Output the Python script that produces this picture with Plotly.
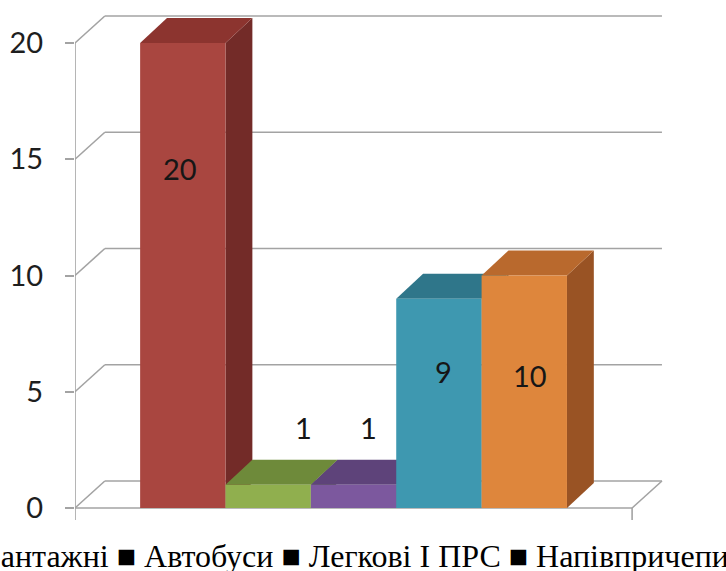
import plotly.graph_objects as go

# ---- data ----
categories = ["Вантажні", "Автобуси", "Легкові", "ПРС", "Напівпричепи"]
values = [20, 1, 1, 9, 10]
y_ticks = [0, 5, 10, 15, 20]
legend_separators = ["■", "■", "І", "■"]

# ---- styling ----
front_colors = ["#A94640", "#90AF4E", "#7C589E", "#3E98B0", "#DE863C"]
top_colors = ["#8C342F", "#6E8A3A", "#5E437A", "#2F768A", "#B9692D"]
side_colors = ["#732B28", "#5A7430", "#4C3765", "#256476", "#995324"]
grid_color = "#A3A3A3"
tick_font = dict(family="Lato", size=29, color="#1E1E1E")
label_font = dict(family="Lato", size=29, color="#161616")

# value-label placement (x shift from bar centre, height in axis units)
label_dx = [-0.03, 0.41, 0.17, 0.05, 0.07]
label_y = [14.6, 3.45, 3.45, 5.85, 5.7]

# ---- layout geometry ----
W, H = 726, 571
M_L, M_R, M_T, M_B = 72, 60, 10, 51
PX_PER_BAR = 85.8          # horizontal pixels per bar width
PX_PER_UNIT = 23.25        # vertical pixels per value unit
ZERO_FROM_BOTTOM = 12      # pixels between value 0 and the plot bottom
GAP = 0.763                # side gap between floor edge and first/last bar
FLOOR_DX, FLOOR_DY = 30 / PX_PER_BAR, 27 / PX_PER_UNIT
BAR_DX, BAR_DY = 27 / PX_PER_BAR, 25 / PX_PER_UNIT

n = len(values)
plot_w = W - M_L - M_R
plot_h = H - M_T - M_B
XL = -0.5 - GAP
XR = n - 0.5 + GAP
x_range = [XL, XL + plot_w / PX_PER_BAR]
y_min = -ZERO_FROM_BOTTOM / PX_PER_UNIT
y_range = [y_min, y_min + plot_h / PX_PER_UNIT]


def poly(points):
    return "M " + " L ".join(f"{x},{y}" for x, y in points) + " Z"


shapes = []
line_style = dict(color=grid_color, width=1.6)

# back-wall gridlines with the short diagonal on the side wall
for v in y_ticks:
    shapes.append(dict(type="line", xref="x", yref="y", layer="below",
                       x0=XL, y0=v, x1=XL + FLOOR_DX, y1=v + FLOOR_DY, line=line_style))
    shapes.append(dict(type="line", xref="x", yref="y", layer="below",
                       x0=XL + FLOOR_DX, y0=v + FLOOR_DY, x1=XR + FLOOR_DX, y1=v + FLOOR_DY,
                       line=line_style))

# floor outline
shapes.append(dict(type="line", xref="x", yref="y", layer="below",
                   x0=XL, y0=0, x1=XR, y1=0, line=line_style))
shapes.append(dict(type="line", xref="x", yref="y", layer="below",
                   x0=XR, y0=0, x1=XR + FLOOR_DX, y1=FLOOR_DY, line=line_style))
# value axis line and the category-axis end tick
shapes.append(dict(type="line", xref="x", yref="y", layer="below",
                   x0=XL, y0=max(y_ticks), x1=XL, y1=y_min, line=line_style))
shapes.append(dict(type="line", xref="x", yref="y", layer="below",
                   x0=XR, y0=0, x1=XR, y1=y_min, line=line_style))

# 3-D top and side faces of each bar
for i, v in enumerate(values):
    l, r = i - 0.5, i + 0.5
    shapes.append(dict(type="path", xref="x", yref="y", layer="below",
                       path=poly([(r, 0), (r, v), (r + BAR_DX, v + BAR_DY), (r + BAR_DX, BAR_DY)]),
                       fillcolor=side_colors[i], line=dict(width=0)))
    shapes.append(dict(type="path", xref="x", yref="y", layer="below",
                       path=poly([(l, v), (r, v), (r + BAR_DX, v + BAR_DY), (l + BAR_DX, v + BAR_DY)]),
                       fillcolor=top_colors[i], line=dict(width=0)))

fig = go.Figure()
fig.add_trace(go.Bar(
    x=list(range(n)), y=values, width=1,
    marker=dict(color=front_colors, line=dict(width=0)),
    hoverinfo="skip", showlegend=False,
))

annotations = []
for i, v in enumerate(values):
    annotations.append(dict(x=i + label_dx[i], y=label_y[i], xref="x", yref="y",
                            text=str(v), showarrow=False, font=label_font))

legend_text = "■ " + categories[0]
for sep, cat in zip(legend_separators, categories[1:]):
    legend_text += f" {sep} {cat}"
annotations.append(dict(
    x=(731 - M_L) / plot_w, y=-(556 - (H - M_B)) / plot_h,
    xref="paper", yref="paper", xanchor="right", yanchor="middle",
    text=legend_text, showarrow=False,
    font=dict(family="Liberation Serif", size=32, color="#000000"),
))

fig.update_layout(
    width=W, height=H,
    margin=dict(l=M_L, r=M_R, t=M_T, b=M_B, pad=0),
    paper_bgcolor="white", plot_bgcolor="white",
    shapes=shapes, annotations=annotations,
    showlegend=False,
    xaxis=dict(range=x_range, visible=False, fixedrange=True),
    yaxis=dict(range=y_range, tickvals=y_ticks, ticks="outside", ticklen=9,
               tickwidth=1.6, tickcolor=grid_color, showgrid=False, zeroline=False,
               showline=False, tickfont=tick_font, ticklabelstandoff=16,
               fixedrange=True),
)

fig.write_html("out.html")
